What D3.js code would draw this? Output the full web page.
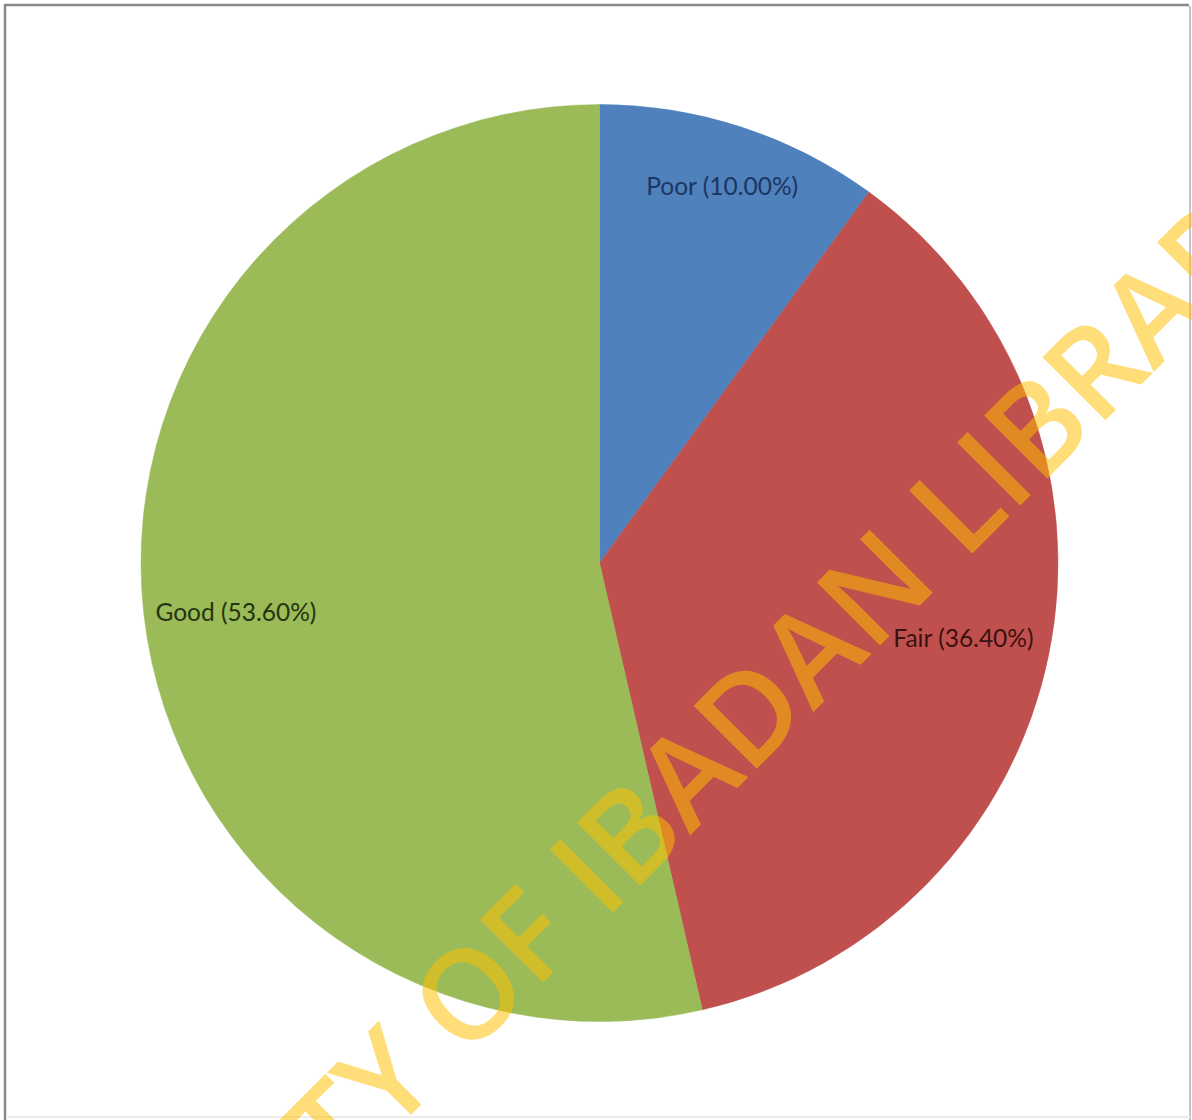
<!DOCTYPE html>
<html>
<head>
<meta charset="utf-8">
<script src="https://cdn.jsdelivr.net/npm/d3@7"></script>
<style>
  html, body { margin: 0; padding: 0; background: #fff; }
  svg { display: block; }
</style>
</head>
<body>
<svg id="chart" width="1192" height="1120"></svg>
<script>
// ---- data ----
const categories = ["Poor", "Fair", "Good"];
const values = [10.00, 36.40, 53.60];
const sliceColors = ["#4F81BD", "#C0504D", "#9BBB59"];
const labelColors = ["#1c3561", "#3a1111", "#24340f"];
const watermarkText = "UNIVERSITY OF IBADAN LIBRARY";

// ---- layout (label placement like Excel's best fit) ----
const labelRadiusFrac = [0.866, 0.81, 0.80];
const labelAngleShiftDeg = [0, 0, -1.1];

const W = 1192, H = 1120;
const cx = 599.5, cy = 563, R = 458.5;

const svg = d3.select("#chart");

// frame
svg.append("path")
  .attr("d", `M5,${H + 5} L5,5 L1189,5`)
  .attr("fill", "none").attr("stroke", "#8a8a8a").attr("stroke-width", 2.5);
svg.append("line")
  .attr("x1", 1190).attr("x2", 1190).attr("y1", 6).attr("y2", H)
  .attr("stroke", "#c4c4c4").attr("stroke-width", 2);
svg.append("line")
  .attr("x1", 6).attr("x2", 1190).attr("y1", 1117).attr("y2", 1117)
  .attr("stroke", "#ececec").attr("stroke-width", 2);

const pie = d3.pie().sort(null).value(d => d)(values);
const arc = d3.arc().innerRadius(0).outerRadius(R);

const g = svg.append("g").attr("transform", `translate(${cx},${cy})`);
g.selectAll("path.slice").data(pie).join("path")
  .attr("class", "slice")
  .attr("d", arc)
  .attr("fill", (d, i) => sliceColors[i])
  .attr("stroke", (d, i) => sliceColors[i])
  .attr("stroke-width", 0.5);

const fmt = d3.format(".2f");
g.selectAll("text.lbl").data(pie).join("text")
  .attr("class", "lbl")
  .attr("transform", (d, i) => {
    const a = (d.startAngle + d.endAngle) / 2 + labelAngleShiftDeg[i] * Math.PI / 180;
    const r = R * labelRadiusFrac[i];
    return `translate(${r * Math.sin(a)},${-r * Math.cos(a)})`;
  })
  .attr("text-anchor", "middle")
  .attr("dominant-baseline", "central")
  .attr("font-family", "Lato, 'Open Sans', sans-serif")
  .attr("font-size", 24.5)
  .attr("fill", (d, i) => labelColors[i])
  .text((d, i) => `${categories[i]} (${fmt(values[i])}%)`);

// watermark
svg.append("text")
  .attr("transform", "translate(597,860) rotate(-45)")
  .attr("text-anchor", "middle")
  .attr("dominant-baseline", "central")
  .attr("font-family", "'Open Sans', 'Noto Sans', sans-serif")
  .attr("font-size", 125)
  .attr("font-weight", 600)
  .attr("fill", "#FFC000")
  .attr("fill-opacity", 0.52)
  .text(watermarkText);
</script>
</body>
</html>
